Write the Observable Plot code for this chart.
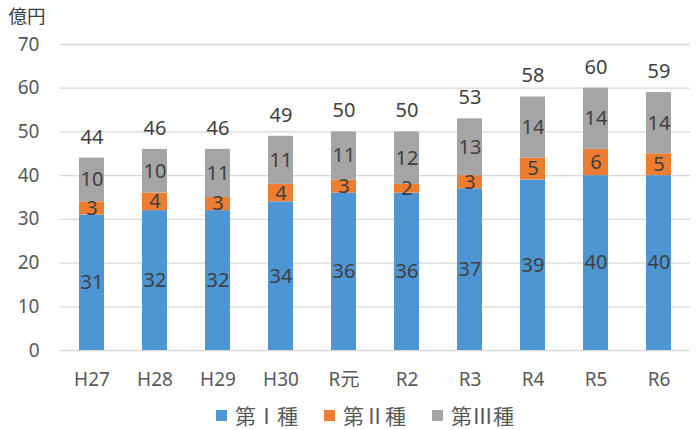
<!DOCTYPE html>
<html>
<head>
<meta charset="utf-8">
<script src="https://cdn.jsdelivr.net/npm/d3@7"></script>
<script src="https://cdn.jsdelivr.net/npm/@observablehq/plot@0.6"></script>
<style>
  body { margin: 0; background: #fff; font-family: "Noto Sans", "Noto Sans CJK JP", sans-serif; }
  #chart { width: 699px; }
  .legend { display: flex; justify-content: flex-start; padding-left: 216px; font-size: 21px; line-height: 26px; color: #595959; margin-top: 10px; font-family: "Noto Sans CJK JP", sans-serif; }
  .legend span.item { display: inline-flex; align-items: center; width: 108px; white-space: nowrap; }
  .legend span.sw { display: inline-block; width: 11px; height: 11px; margin-right: 8px; }
</style>
</head>
<body>
<div id="chart"></div>
<script>
const categories = ["H27","H28","H29","H30","R元","R2","R3","R4","R5","R6"];
const series = ["第Ⅰ種","第Ⅱ種","第Ⅲ種"];
const colors = ["#4E95D3","#ED7D31","#A5A5A5"];
const type1 = [31,32,32,34,36,36,37,39,40,40];
const type2 = [3,4,3,4,3,2,3,5,6,5];
const type3 = [10,10,11,11,11,12,13,14,14,14];
const totals = [44,46,46,49,50,50,53,58,60,59];
const yTicks = [0,10,20,30,40,50,60,70];
const unitLabel = "億円";

const values = [type1, type2, type3];
const data = [];
series.forEach((s, si) => categories.forEach((c, ci) => data.push({cat: c, series: s, value: values[si][ci]})));
const totalData = categories.map((c, i) => ({cat: c, total: totals[i]}));

const plot = Plot.plot({
  width: 699,
  height: 392,
  marginTop: 44,
  marginBottom: 42,
  marginLeft: 60,
  marginRight: 9,
  style: {fontFamily: '"Noto Sans", "Noto Sans CJK JP", sans-serif', fontSize: "19px", color: "#595959", background: "#fff"},
  x: {domain: categories, paddingInner: 0.6, paddingOuter: 0.3, label: null},
  y: {domain: [0, 70], ticks: yTicks, label: null},
  color: {domain: series, range: colors},
  marks: [
    Plot.gridY(yTicks, {stroke: "#d9d9d9", strokeOpacity: 1, strokeWidth: 1.3}),
    Plot.axisY(yTicks, {tickSize: 0, tickPadding: 21, fontSize: 19, fill: "#595959"}),
    Plot.axisX({tickSize: 0, tickPadding: 22, fontSize: 19, fill: "#595959"}),
    Plot.barY(data, {x: "cat", y: "value", fill: "series", order: series}),
    Plot.text(data, Plot.stackY({x: "cat", y: "value", z: "series", order: series, text: "value", fill: "#404040", fontSize: 20})),
    Plot.text(totalData, {x: "cat", y: "total", text: "total", dy: -21, fill: "#404040", fontSize: 20}),
    Plot.text([unitLabel], {frameAnchor: "top-left", text: d => d, dx: -52, dy: -35, fontSize: 18.5, fill: "#404040", textAnchor: "start", fontFamily: '"Noto Sans CJK JP", sans-serif'})
  ]
});
document.getElementById("chart").appendChild(plot);

const legend = document.createElement("div");
legend.className = "legend";
series.forEach((s, i) => {
  const item = document.createElement("span");
  item.className = "item";
  const sw = document.createElement("span");
  sw.className = "sw";
  sw.style.background = colors[i];
  item.appendChild(sw);
  item.appendChild(document.createTextNode(s));
  legend.appendChild(item);
});
document.getElementById("chart").appendChild(legend);
</script>
</body>
</html>
